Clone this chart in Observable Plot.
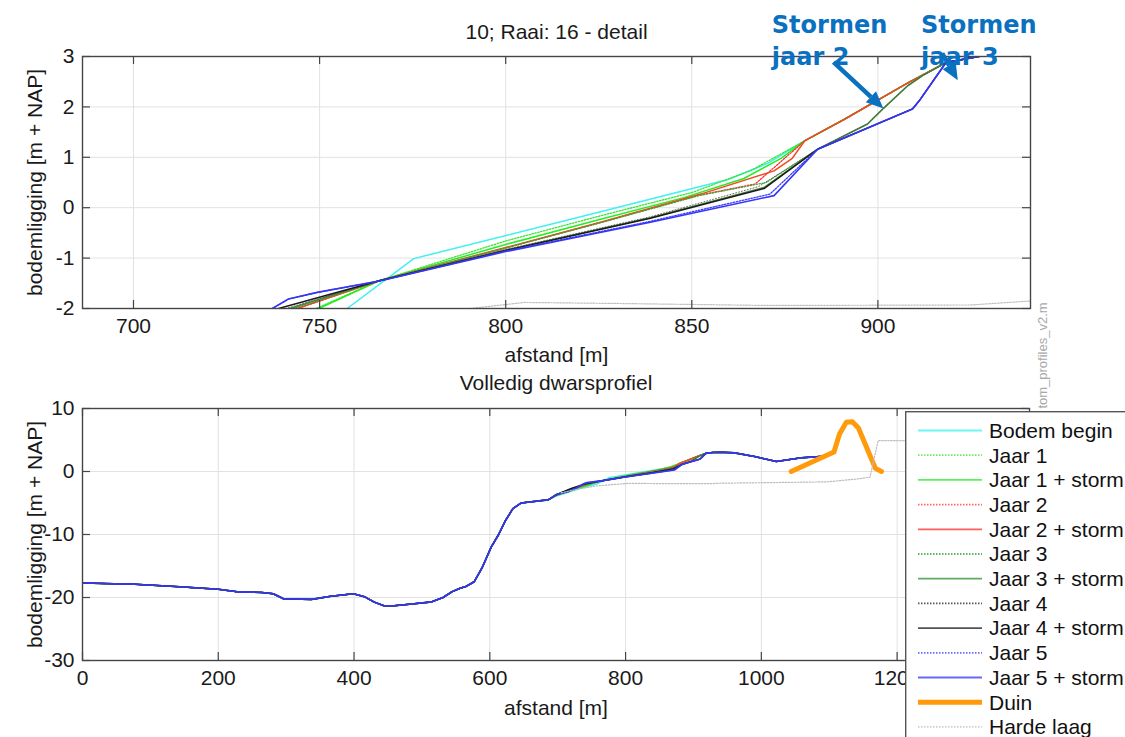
<!DOCTYPE html>
<html>
<head>
<meta charset="utf-8">
<script src="https://cdn.jsdelivr.net/npm/d3@7"></script>
<script src="https://cdn.jsdelivr.net/npm/@observablehq/plot@0.6"></script>
<style>
  body { margin: 0; background: #fff; }
  #fig { position: relative; width: 1125px; height: 737px; overflow: hidden; background: #fff; }
  #fig > * { position: absolute; }
</style>
</head>
<body>
<div id="fig"></div>
<script>
// ---- Reeksen (volgorde = tekenvolgorde en legendavolgorde) ----
const reeksen = ["Bodem begin", "Jaar 1", "Jaar 1 + storm", "Jaar 2", "Jaar 2 + storm",
  "Jaar 3", "Jaar 3 + storm", "Jaar 4", "Jaar 4 + storm", "Jaar 5", "Jaar 5 + storm",
  "Duin", "Harde laag"];

// ---- Profieldelen [afstand m, bodemligging m+NAP] ----
// gedeelde zeebodem 0–686 m
const zeebodem = [[0,-17.7],[77,-17.9],[143,-18.3],[200,-18.7],[228,-19.1],[264,-19.2],[281,-19.4],
  [296,-20.2],[337,-20.3],[366,-19.8],[399,-19.4],[416,-19.9],[429,-20.7],[444,-21.3],[459,-21.3],
  [478,-21.1],[514,-20.7],[531,-20.0],[544,-19.1],[557,-18.5],[564,-18.3],[577,-17.5],[589,-15.2],
  [602,-12.0],[613,-10.0],[623,-7.8],[634,-5.9],[646,-5.0],[686,-4.5]];

// vooroever per reeks
const oeverBodemBegin = [[698,-3.9],[730,-2.8],[757.4,-2.0],[775.3,-1.01],[825.5,-0.08],[859.7,0.56],[870.4,0.88]];
const oeverJaar1 = [[698,-3.8],[728,-2.75],[749,-2.0],[766,-1.45],[800,-0.66],[826,-0.15],[850,0.3],[866,0.74]];
const oeverJaar1Storm = [[698,-3.8],[728,-2.75],[749.8,-2.0],[766,-1.45],[800,-0.73],[825.5,-0.23],[847.9,0.2],[864,0.58],[874,0.98]];
const oeverJaar2 = [[698,-3.75],[725,-2.7],[744,-2.0],[766,-1.45],[800,-0.8],[825.5,-0.29],[852,0.25],[867,0.47]];
const oeverJaar2Storm = [[698,-3.75],[725,-2.7],[744,-2.0],[766,-1.45],[800,-0.79],[825.5,-0.29],[852.4,0.27],[872.1,0.73],[877,0.98]];
const oeverJaar3 = [[698,-3.72],[724,-2.7],[743,-2.0],[766,-1.45],[800,-0.8],[825.5,-0.3],[852,0.24],[870,0.5]];
const oeverJaar3Storm = [[698,-3.7],[722,-2.7],[742,-2.0],[766,-1.45],[800,-0.84],[838.9,-0.2],[869.4,0.4]];
const oeverJaar4 = [[698,-3.7],[721,-2.7],[741,-2.0],[766,-1.45],[800,-0.83],[838.9,-0.18],[868,0.42]];
const oeverJaar4Storm = [[698,-3.68],[720,-2.7],[739,-2.0],[766,-1.45],[800,-0.85],[838.9,-0.21],[869.4,0.38]];
const oeverJaar5 = [[698,-3.65],[715,-3.2],[728,-2.6],[737.3,-2.0],[741.7,-1.81],[749.4,-1.68],[766.4,-1.45],[800,-0.86],[838.9,-0.27],[871,0.27]];
const oeverJaar5Storm = [[698,-3.65],[715,-3.2],[728,-2.6],[737.3,-2.0],[741.7,-1.81],[749.4,-1.68],[766.4,-1.45],[800,-0.87],[838.9,-0.29],[872.1,0.24]];

// duinfront: oorspronkelijk (A), na eerste afslag (B), na tweede afslag (C)
const frontA = [[880.4,1.33],[890.9,1.75],[908.4,2.49],[918.3,2.88],[928.5,3.02]];
const frontB = [[883.8,1.16],[897.2,1.66],[901.2,1.95],[908,2.42],[912,2.62],[918.3,2.88],[928.5,3.02]];
const frontC = [[883.8,1.16],[909.3,1.96],[911.1,2.12],[918.3,2.88],[928.5,3.02]];
// gedeelde duinrug achter het front
const duinrug = [[941,3.06],[960,2.96],[990,2.38],[1022,1.59],[1059,2.17],[1097,2.45]];

const duin = [[1044,0.0],[1107,3.1],[1115,5.9],[1125,7.8],[1134,7.9],[1143,6.9],[1168,0.5],[1177,0.0]];
const hardeLaag = [[705,-3.4],[734,-2.7],[760,-2.25],[790.6,-2.0],[805,-1.88],[830,-1.9],[871,-1.94],
  [925,-1.93],[941,-1.85],[1000,-1.78],[1098,-1.64],[1143,-1.16],[1160,-0.9],[1172,4.9],[1395,4.9]];

const profielen = {
  "Bodem begin":    [...zeebodem, ...oeverBodemBegin, ...frontA, ...duinrug],
  "Jaar 1":         [...zeebodem, ...oeverJaar1, ...frontA, ...duinrug],
  "Jaar 1 + storm": [...zeebodem, ...oeverJaar1Storm, ...frontA, ...duinrug],
  "Jaar 2":         [...zeebodem, ...oeverJaar2, ...frontA, ...duinrug],
  "Jaar 2 + storm": [...zeebodem, ...oeverJaar2Storm, ...frontA, ...duinrug],
  "Jaar 3":         [...zeebodem, ...oeverJaar3, ...frontB, ...duinrug],
  "Jaar 3 + storm": [...zeebodem, ...oeverJaar3Storm, ...frontB, ...duinrug],
  "Jaar 4":         [...zeebodem, ...oeverJaar4, ...frontB, ...duinrug],
  "Jaar 4 + storm": [...zeebodem, ...oeverJaar4Storm, ...frontC, ...duinrug],
  "Jaar 5":         [...zeebodem, ...oeverJaar5, ...frontC, ...duinrug],
  "Jaar 5 + storm": [...zeebodem, ...oeverJaar5Storm, ...frontC, ...duinrug],
  "Duin":           duin,
  "Harde laag":     hardeLaag
};

// ---- Assen en teksten ----
const detailXTicks = [700, 750, 800, 850, 900];
const detailYTicks = [-2, -1, 0, 1, 2, 3];
const volledigXTicks = [0, 200, 400, 600, 800, 1000, 1200];
const volledigYTicks = [-30, -20, -10, 0, 10];
const titelDetail = "10; Raai: 16 - detail";
const titelVolledig = "Volledig dwarsprofiel";
const xLabel = "afstand [m]";
const yLabel = "bodemligging [m + NAP]";
const bestandsnaam = "tom_profiles_v2.m";

// ---- Annotaties (in data-eenheden van het detailpaneel) ----
const annotatieTeksten = [
  {x: 871.5, y: 3.93, tekst: "Stormen\njaar 2"},
  {x: 911.6, y: 3.93, tekst: "Stormen\njaar 3"}
];
const annotatiePijlen = [
  {x1: 888.2, y1: 2.88, x2: 901.6, y2: 1.96},
  {x1: 917.4, y1: 3.05, x2: 921.6, y2: 2.52}
];

// ---- Lijnstijlen (lijn in de grafiek; legenda gebruikt kleur en streep) ----
const stijl = {
  "Bodem begin":    {kleur: "#3ff0f0", dikte: 1.5, streep: null},
  "Jaar 1":         {kleur: "#33e633", dikte: 1.3, streep: "1.5,1.5"},
  "Jaar 1 + storm": {kleur: "#22ee22", dikte: 1.5, streep: null},
  "Jaar 2":         {kleur: "#ff3030", dikte: 1.3, streep: "1.5,1.5"},
  "Jaar 2 + storm": {kleur: "#f04a20", dikte: 1.5, streep: null},
  "Jaar 3":         {kleur: "#3aa83a", dikte: 1.2, streep: "1.5,1.5"},
  "Jaar 3 + storm": {kleur: "#4a8a3a", dikte: 1.6, streep: null},
  "Jaar 4":         {kleur: "#555555", dikte: 0.9, streep: "1,2"},
  "Jaar 4 + storm": {kleur: "#1a1a1a", dikte: 1.5, streep: null},
  "Jaar 5":         {kleur: "#3a3aff", dikte: 1.3, streep: "1.5,1.5"},
  "Jaar 5 + storm": {kleur: "#3535f5", dikte: 1.6, streep: null},
  "Duin":           {kleur: "#ff9a0a", dikte: 5, streep: null},
  "Harde laag":     {kleur: "#bdbdbd", dikte: 1.2, streep: "1.5,1.5"}
};
const legendaKleur = {
  "Jaar 2 + storm": "#ff2a2a", "Jaar 3": "#2e9e2e", "Jaar 3 + storm": "#2a8f2a", "Jaar 4": "#222222"
};
const FONT = "'Liberation Sans', Arial, Helvetica, sans-serif";
const asKleur = "#454545";
const gridKleur = "#e2e2e2";
const annotatieKleur = "#0a70c0";

function profielLijnen() {
  return reeksen.map(naam => Plot.line(profielen[naam], {
    x: d => d[0], y: d => d[1],
    stroke: stijl[naam].kleur, strokeWidth: stijl[naam].dikte,
    strokeDasharray: stijl[naam].streep, strokeLinejoin: "round", clip: true
  }));
}

// MATLAB-achtig assenstelsel: raster, naar binnen gerichte tickjes aan alle zijden, kader
function assenstelsel(xTicks, yTicks, fw, fh, tickLen) {
  return {
    raster: [
      Plot.gridX(xTicks, {stroke: gridKleur, strokeOpacity: 1}),
      Plot.gridY(yTicks, {stroke: gridKleur, strokeOpacity: 1})
    ],
    kader: [
      Plot.ruleX(xTicks, {insetTop: fh - tickLen, stroke: asKleur, strokeWidth: 1.2}),
      Plot.ruleX(xTicks, {insetBottom: fh - tickLen, stroke: asKleur, strokeWidth: 1.2}),
      Plot.ruleY(yTicks, {insetRight: fw - tickLen, stroke: asKleur, strokeWidth: 1.2}),
      Plot.ruleY(yTicks, {insetLeft: fw - tickLen, stroke: asKleur, strokeWidth: 1.2}),
      Plot.frame({stroke: asKleur, strokeWidth: 1.4}),
      Plot.axisX(xTicks, {anchor: "bottom", tickSize: 0, tickPadding: 10, tickFormat: d => String(d), label: null}),
      Plot.axisY(yTicks, {anchor: "left", tickSize: 0, tickPadding: 8, tickFormat: d => String(d), label: null})
    ]
  };
}

// pijlen met gevulde punt, gepositioneerd via de schalen van de plot
function pijlen(index, scales) {
  const g = d3.create("svg:g");
  for (const p of annotatiePijlen) {
    const x1 = scales.x(p.x1), y1 = scales.y(p.y1);
    const x2 = scales.x(p.x2), y2 = scales.y(p.y2);
    const a = Math.atan2(y2 - y1, x2 - x1);
    const L = 17, W = 7.5;
    const bx = x2 - L * Math.cos(a), by = y2 - L * Math.sin(a);
    g.append("line")
      .attr("x1", x1).attr("y1", y1).attr("x2", bx).attr("y2", by)
      .attr("stroke", annotatieKleur).attr("stroke-width", 4.5);
    g.append("path")
      .attr("d", `M${x2},${y2}L${bx + W * Math.sin(a)},${by - W * Math.cos(a)}L${bx - W * Math.sin(a)},${by + W * Math.cos(a)}Z`)
      .attr("fill", annotatieKleur);
  }
  return g.node();
}

const stijlSvg = {fontFamily: FONT, fontSize: "21px", background: "transparent", overflow: "visible", color: "#1a1a1a"};

// titel boven, x-label onder, gedraaid y-label links van het kader
function bijschriften(titel, titelAfstand, labelAfstand) {
  return [
    Plot.text([titel], {text: d => d, frameAnchor: "top", textAnchor: "middle", lineAnchor: "middle", dy: -titelAfstand}),
    Plot.text([xLabel], {text: d => d, frameAnchor: "bottom", textAnchor: "middle", lineAnchor: "middle", dy: labelAfstand}),
    Plot.text([yLabel], {text: d => d, frameAnchor: "left", textAnchor: "middle", lineAnchor: "middle", rotate: -90, dx: -47})
  ];
}

// ---- Detailpaneel ----
const bovenM = {top: 56, right: 95, bottom: 62, left: 82};
const bovenW = 1125, bovenH = 370;
const assenBoven = assenstelsel(detailXTicks, detailYTicks,
  bovenW - bovenM.left - bovenM.right, bovenH - bovenM.top - bovenM.bottom, 8);
const boven = Plot.plot({
  width: bovenW, height: bovenH,
  marginTop: bovenM.top, marginRight: bovenM.right, marginBottom: bovenM.bottom, marginLeft: bovenM.left,
  style: stijlSvg,
  x: {domain: [686.3, 941]},
  y: {domain: [-2, 3]},
  marks: [
    ...assenBoven.raster,
    ...profielLijnen(),
    ...assenBoven.kader,
    ...bijschriften(titelDetail, 24, 47),
    Plot.text([bestandsnaam], {text: d => d, frameAnchor: "bottom-right", textAnchor: "middle", lineAnchor: "middle",
      rotate: -90, dx: 12, dy: 47, fontSize: 13, fill: "#a8a8a8"}),
    Plot.text(annotatieTeksten, {
      x: "x", y: "y", text: "tekst", textAnchor: "start", lineAnchor: "top", lineHeight: 1.35,
      fontFamily: "'DejaVu Sans', Verdana, sans-serif", fontWeight: "bold", fontSize: 24, fill: annotatieKleur
    }),
    pijlen
  ]
});

// ---- Volledig dwarsprofiel ----
const onderM = {top: 38, right: 96, bottom: 77, left: 82};
const onderW = 1125, onderH = 367;
const assenOnder = assenstelsel(volledigXTicks, volledigYTicks,
  onderW - onderM.left - onderM.right, onderH - onderM.top - onderM.bottom, 8);
const onder = Plot.plot({
  width: onderW, height: onderH,
  marginTop: onderM.top, marginRight: onderM.right, marginBottom: onderM.bottom, marginLeft: onderM.left,
  style: stijlSvg,
  x: {domain: [0, 1395]},
  y: {domain: [-30, 10]},
  marks: [
    ...assenOnder.raster,
    ...profielLijnen(),
    ...assenOnder.kader,
    ...bijschriften(titelVolledig, 25, 48)
  ]
});

const fig = document.getElementById("fig");
boven.style.left = "0px"; boven.style.top = "0px";
onder.style.left = "0px"; onder.style.top = "370px";
fig.append(boven, onder);

// ---- Legenda ----
const leg = d3.select(fig).append("svg")
  .attr("width", 220).attr("height", 326)
  .style("left", "905px").style("top", "411px")
  .style("font-family", FONT).style("font-size", "21px");
leg.append("rect").attr("x", 0.7).attr("y", 0.7).attr("width", 260).attr("height", 400)
  .attr("fill", "#fff").attr("stroke", "#555").attr("stroke-width", 1.4);
reeksen.forEach((naam, i) => {
  const cy = 19.5 + i * 24.7;
  const streep = stijl[naam].streep ? "1.5,1.5" : null;
  leg.append("line").attr("x1", 13).attr("x2", 77).attr("y1", cy).attr("y2", cy)
    .attr("stroke", legendaKleur[naam] || stijl[naam].kleur)
    .attr("stroke-width", naam === "Duin" ? 5 : 1.8)
    .attr("stroke-dasharray", streep)
    .attr("stroke-opacity", naam === "Duin" ? 1 : 0.75);
  leg.append("text").attr("x", 84).attr("y", cy).attr("dy", "0.35em")
    .attr("fill", "#111").text(naam);
});
</script>
</body>
</html>
